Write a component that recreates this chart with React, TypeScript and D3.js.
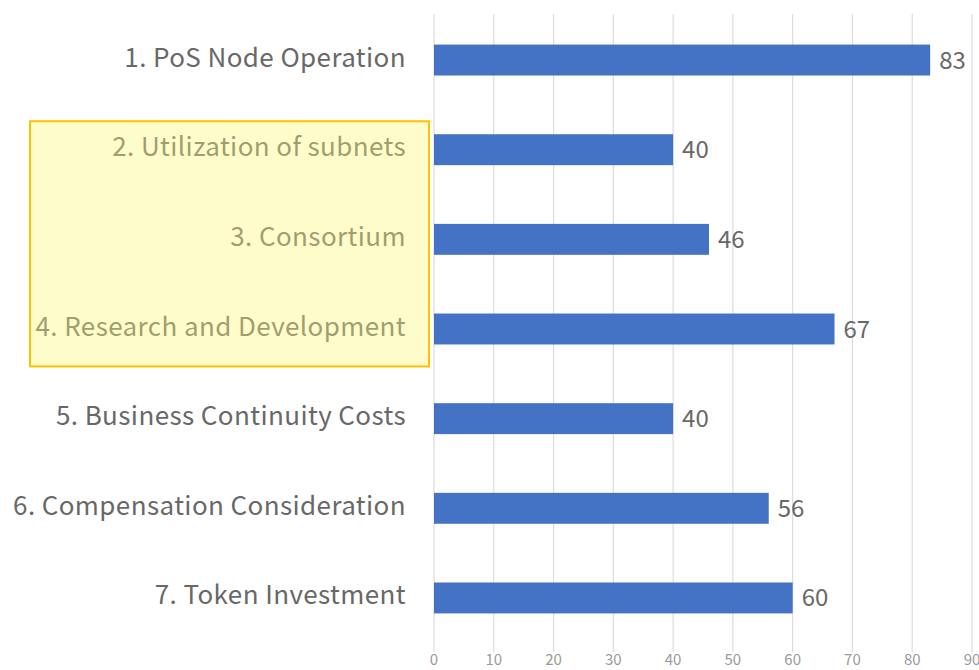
import React from "react";
import * as d3 from "d3";

const categories = [
  "1. PoS Node Operation",
  "2. Utilization of subnets",
  "3. Consortium",
  "4. Research and Development",
  "5. Business Continuity Costs",
  "6. Compensation Consideration",
  "7. Token Investment",
];
const values = [83, 40, 46, 67, 40, 56, 60];
const xTicks = [0, 10, 20, 30, 40, 50, 60, 70, 80, 90];
const highlighted = [1, 2, 3];

const W = 979;
const H = 670;
const FONT = "'Noto Sans CJK JP', 'Noto Sans', sans-serif";

export default function App() {
  const x = d3.scaleLinear().domain([0, 90]).range([434, 972]);
  const y = d3
    .scaleBand<string>()
    .domain(categories)
    .range([15, 643])
    .paddingInner(0.655)
    .paddingOuter(0.33);
  const bw = y.bandwidth();
  const hiTop = y(categories[highlighted[0]])! - 13;
  const hiBot = y(categories[highlighted[highlighted.length - 1]])! + bw + 22;

  return (
    <div style={{ position: "fixed", left: 0, top: 0, width: W, height: H, background: "#fff" }}>
      <svg width={W} height={H} style={{ display: "block" }} fontFamily={FONT}>
        <rect width={W} height={H} fill="#fff" />
        {xTicks.map((t) => (
          <g key={t}>
            <line x1={x(t)} x2={x(t)} y1={14} y2={652} stroke="#dcdcdc" strokeWidth={1.2} />
            <text x={x(t)} y={665} textAnchor="middle" fontSize={15} fill="#9a9a9a">
              {t}
            </text>
          </g>
        ))}
        {categories.map((c, i) => (
          <g key={c}>
            <rect x={x(0)} y={y(c)!} width={x(values[i]) - x(0)} height={bw} fill="#4472C4" />
            <text
              x={x(values[i]) + 9}
              y={y(c)! + bw / 2 - 2}
              dominantBaseline="central"
              fontSize={24}
              fill="#686868"
            >
              {values[i]}
            </text>
            <text
              x={406}
              y={y(c)! + bw / 2 - 5}
              dominantBaseline="central"
              textAnchor="end"
              fontSize={26}
              letterSpacing={0.4}
              fill="#686868"
            >
              {c}
            </text>
          </g>
        ))}
        <rect
          x={30}
          y={hiTop}
          width={399}
          height={hiBot - hiTop}
          fill="rgb(255,246,120)"
          fillOpacity={0.38}
          stroke="#FFC000"
          strokeWidth={2}
        />
      </svg>
    </div>
  );
}
